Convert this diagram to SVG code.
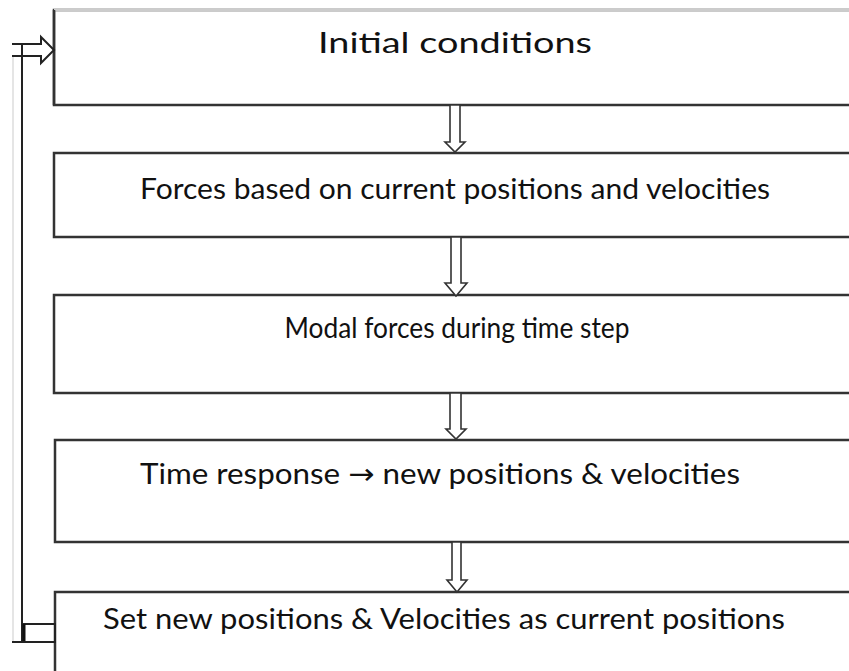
<svg xmlns="http://www.w3.org/2000/svg" width="849" height="671" viewBox="0 0 849 671">
<style>
.box{fill:#fff;stroke:#333;stroke-width:2.5}
.ln{fill:none;stroke:#222;stroke-width:2}
.arr{fill:#fff;stroke:#333;stroke-width:1.6;stroke-linejoin:miter}
.t{font-family:Lato,"Open Sans",sans-serif;font-size:29px;fill:#111;text-anchor:middle}
.ar{font-family:"DejaVu Sans",sans-serif}
</style>
<rect width="849" height="671" fill="#fff"/>
<g id="n1">
<rect class="box" x="54" y="10" width="820" height="95"/>
<line x1="54" y1="10" x2="849" y2="10" stroke="#ccc" stroke-width="2.5"/>
<line x1="54" y1="10" x2="54" y2="105" stroke="#333" stroke-width="2.5"/>
<text class="t" x="455" y="53" textLength="274" lengthAdjust="spacingAndGlyphs">Initial conditions</text>
</g>
<g id="n2">
<rect class="box" x="54" y="153" width="820" height="84"/>
<text class="t" x="455" y="199" textLength="630" lengthAdjust="spacingAndGlyphs">Forces based on current positions and velocities</text>
</g>
<g id="n3">
<rect class="box" x="54" y="295" width="820" height="98"/>
<text class="t" x="457" y="338" textLength="345" lengthAdjust="spacingAndGlyphs">Modal forces during time step</text>
</g>
<g id="n4">
<rect class="box" x="55" y="440" width="820" height="102"/>
<text class="t" x="440" y="484" textLength="600" lengthAdjust="spacingAndGlyphs">Time response <tspan class="ar">→</tspan> new positions &amp; velocities</text>
</g>
<g id="n5">
<rect class="box" x="55" y="592" width="820" height="100"/>
<text class="t" x="444" y="629" textLength="682" lengthAdjust="spacingAndGlyphs">Set new positions &amp; Velocities as current positions</text>
</g>
<g id="connectors">
<polygon class="arr" points="450,105 460,105 460,142 465,142 455,152 445,142 450,142"/>
<polygon class="arr" points="451,237 461,237 461,283 467,283 456,296 445,283 451,283"/>
<polygon class="arr" points="450,393 461,393 461,429 466,429 456,439 446,429 450,429"/>
<polygon class="arr" points="452,542 461,542 461,580 467,580 457,592 447,580 452,580"/>
<line x1="13" y1="56" x2="13" y2="642" stroke="#ddd" stroke-width="1.5"/>
<line class="ln" x1="22" y1="44" x2="22" y2="643"/>
<polyline class="ln" points="12,44 41,44 41,37 54,50 41,63 41,56 12,56"/>
<rect x="24" y="624" width="31" height="18" fill="none" stroke="#222" stroke-width="2"/>
<line x1="24" y1="624" x2="24" y2="643" stroke="#111" stroke-width="3"/>
<line class="ln" x1="12" y1="642" x2="55" y2="642"/>
</g>
</svg>
